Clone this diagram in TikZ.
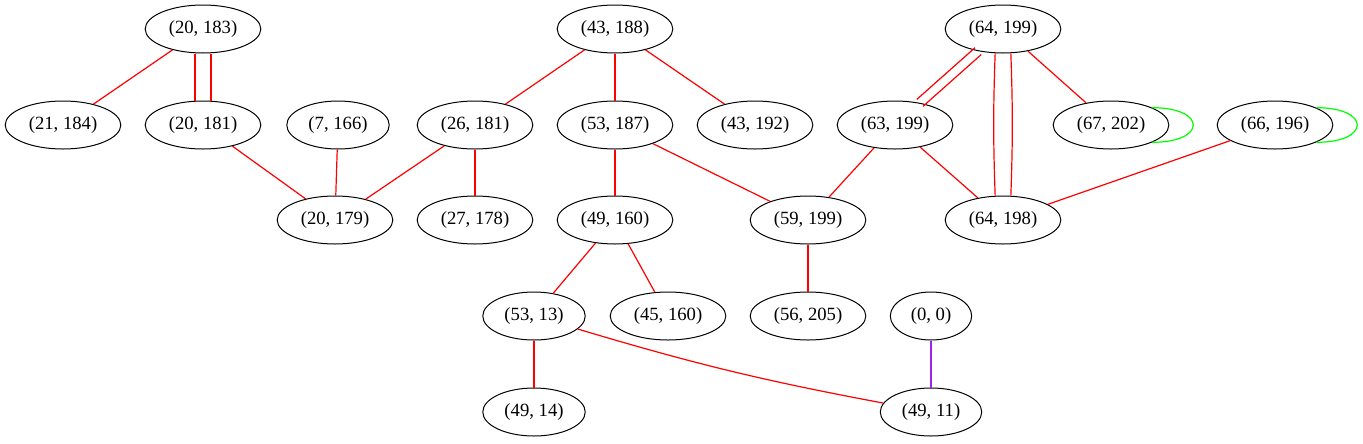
\documentclass[tikz,border=0pt]{standalone}
\usepackage{fontspec}
\setmainfont{Liberation Serif}
\usetikzlibrary{shapes.geometric}

\definecolor{gvred}{RGB}{255,0,0}
\definecolor{gvgreen}{RGB}{0,255,0}
\definecolor{gvpurple}{RGB}{160,32,240}

\begin{document}
\begin{tikzpicture}[x=0.75pt, y=-0.75pt,
    state/.style={draw, ellipse, line width=0.75pt, minimum height=36pt, minimum width=61pt,
        inner xsep=5pt, inner ysep=2pt, font=\fontsize{14}{16}\selectfont},
    rededge/.style={draw=gvred, line width=0.9pt},
    loopedge/.style={draw=gvgreen, line width=0.9pt},
    purpleedge/.style={draw=gvpurple, line width=0.9pt}]
\useasboundingbox (0,0) rectangle (1363,443);

% top rank
\node[state] (n_20_183) at (203,29) {(20, 183)};
\node[state] (n_43_188) at (615,29) {(43, 188)};
\node[state] (n_64_199) at (1003,29) {(64, 199)};

% second rank
\node[state] (n_21_184) at (63,125) {(21, 184)};
\node[state] (n_20_181) at (203,125) {(20, 181)};
\node[state] (n_7_166) at (338,125) {(7, 166)};
\node[state] (n_26_181) at (475,125) {(26, 181)};
\node[state] (n_53_187) at (615,125) {(53, 187)};
\node[state] (n_43_192) at (755,125) {(43, 192)};
\node[state] (n_63_199) at (895,125) {(63, 199)};
\node[state] (n_67_202) at (1111,125) {(67, 202)};
\node[state] (n_66_196) at (1275,125) {(66, 196)};

% third rank
\node[state] (n_20_179) at (335,220) {(20, 179)};
\node[state] (n_27_178) at (475,220) {(27, 178)};
\node[state] (n_49_160) at (615,220) {(49, 160)};
\node[state] (n_59_199) at (808,220) {(59, 199)};
\node[state] (n_64_198) at (1003,220) {(64, 198)};

% fourth rank
\node[state] (n_53_13) at (534,316) {(53, 13)};
\node[state] (n_45_160) at (668,316) {(45, 160)};
\node[state] (n_56_205) at (808,316) {(56, 205)};
\node[state] (n_0_0) at (931,316) {(0, 0)};

% bottom rank
\node[state] (n_49_14) at (534,412) {(49, 14)};
\node[state] (n_49_11) at (931,412) {(49, 11)};

\draw[rededge] (n_20_183) -- (n_21_184);
\draw[rededge, transform canvas={xshift=-6pt}] (n_20_183) -- (n_20_181);
\draw[rededge, transform canvas={xshift=6pt}] (n_20_183) -- (n_20_181);
\draw[rededge] (n_20_181) -- (n_20_179);
\draw[rededge] (n_7_166) -- (n_20_179);
\draw[rededge] (n_26_181) -- (n_20_179);
\draw[rededge] (n_26_181) -- (n_27_178);
\draw[rededge] (n_43_188) -- (n_26_181);
\draw[rededge] (n_43_188) -- (n_53_187);
\draw[rededge] (n_43_188) -- (n_43_192);
\draw[rededge] (n_53_187) -- (n_49_160);
\draw[rededge] (n_53_187) -- (n_59_199);
\draw[rededge] (n_49_160) -- (n_53_13);
\draw[rededge] (n_49_160) -- (n_45_160);
\draw[rededge] (n_53_13) -- (n_49_14);
\draw[rededge] (n_53_13) to[bend right=3] (n_49_11);
\draw[rededge] (n_59_199) -- (n_56_205);
\draw[rededge, transform canvas={shift={(2.3pt,-2.6pt)}}] (n_64_199) -- (n_63_199);
\draw[rededge, transform canvas={shift={(-2.3pt,2.6pt)}}] (n_64_199) -- (n_63_199);
\draw[rededge, transform canvas={xshift=-5.25pt}] (n_64_199) to[bend right=2] (n_64_198);
\draw[rededge, transform canvas={xshift=5.25pt}] (n_64_199) to[bend left=2] (n_64_198);
\draw[rededge] (n_64_199) -- (n_67_202);
\draw[rededge] (n_63_199) -- (n_59_199);
\draw[rededge] (n_63_199) -- (n_64_198);
\draw[rededge] (n_66_196) -- (n_64_198);
\draw[purpleedge] (n_0_0) -- (n_49_11);

% self loops
\draw[loopedge] (n_67_202.north east) .. controls +(41pt,0pt) and +(41pt,0pt) .. (n_67_202.south east);
\draw[loopedge] (n_66_196.north east) .. controls +(41pt,0pt) and +(41pt,0pt) .. (n_66_196.south east);

\end{tikzpicture}
\end{document}
